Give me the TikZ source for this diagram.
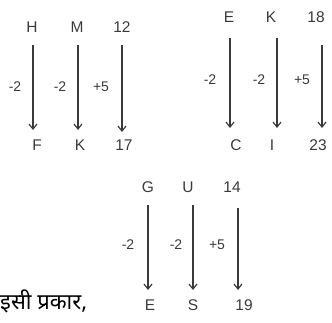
\documentclass[tikz,border=0pt]{standalone}
\usepackage{fontspec}
\setmainfont{Liberation Sans}
\newfontfamily\hindi[Script=Devanagari]{Noto Sans}
\usetikzlibrary{arrows.meta}
\definecolor{ink}{HTML}{3a3a3a}
\begin{document}
\begin{tikzpicture}[x=1pt,y=-1pt,
  lett/.style={font=\fontsize{15.5}{15.5}\selectfont,text=ink,inner sep=0pt,anchor=center},
  lab/.style={font=\fontsize{14}{14}\selectfont,text=ink,inner sep=0pt,anchor=center},
  arr/.style={draw=ink,line width=1.2pt,-{Straight Barb[length=5pt,width=8pt]}}]
\useasboundingbox (0,0) rectangle (332,323);
% group 1
\node[lett] (h) at (32,27) {H};
\node[lett] (m) at (77,27) {M};
\node[lett] (a12) at (122,27) {12};
\node[lett] (f) at (37,145) {F};
\node[lett] (k1) at (80,145) {K};
\node[lett] (a17) at (124,145) {17};
\coordinate (h1) at (33,45); \coordinate (h2) at (33,130);
\coordinate (m1) at (78,45); \coordinate (m2) at (78,130);
\coordinate (t1) at (122,45); \coordinate (t2) at (122,132);
\draw[arr] (h1) -- (h2);
\draw[arr] (m1) -- (m2);
\draw[arr] (t1) -- (t2);
\node[lab] (l1) at (15,87) {-2};
\node[lab] (l2) at (60,87) {-2};
\node[lab] (l3) at (101,87) {+5};
% group 2
\node[lett] (e) at (229,17) {E};
\node[lett] (k2) at (271,17) {K};
\node[lett] (a18) at (316,17) {18};
\node[lett] (c) at (236,145) {C};
\node[lett] (i) at (272,145) {I};
\node[lett] (a23) at (318,145) {23};
\coordinate (e1) at (230,38); \coordinate (e2) at (230,128);
\coordinate (k21) at (277,38); \coordinate (k22) at (277,128);
\coordinate (u1) at (322,45); \coordinate (u2) at (322,128);
\draw[arr] (e1) -- (e2);
\draw[arr] (k21) -- (k22);
\draw[arr] (u1) -- (u2);
\node[lab] (l4) at (210,80) {-2};
\node[lab] (l5) at (259,80) {-2};
\node[lab] (l6) at (302,80) {+5};
% group 3
\node[lett] (g) at (148,187) {G};
\node[lett] (u) at (188,187) {U};
\node[lett] (a14) at (232,187) {14};
\node[lett] (e3) at (150,305) {E};
\node[lett] (s) at (193,305) {S};
\node[lett] (a19) at (244,305) {19};
\coordinate (g1) at (148,205); \coordinate (g2) at (148,290);
\coordinate (s1) at (193,205); \coordinate (s2) at (193,290);
\coordinate (f1) at (238,208); \coordinate (f2) at (238,290);
\draw[arr] (g1) -- (g2);
\draw[arr] (s1) -- (s2);
\draw[arr] (f1) -- (f2);
\node[lab] (l7) at (128,245) {-2};
\node[lab] (l8) at (176,245) {-2};
\node[lab] (l9) at (217,245) {+5};
% hindi text
\node[font=\hindi\fontsize{22}{22}\selectfont,inner sep=0pt,anchor=west] (txt) at (0,301) {इसी प्रकार,};
\end{tikzpicture}
\end{document}
